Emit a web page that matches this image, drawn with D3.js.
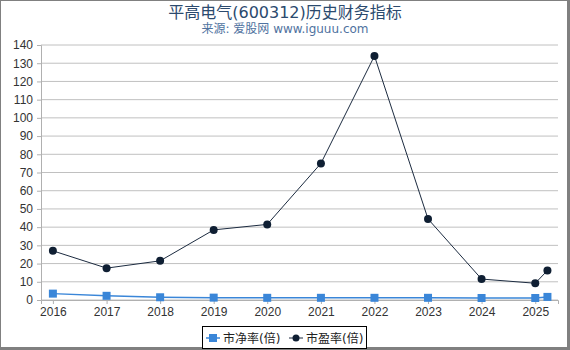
<!DOCTYPE html>
<html>
<head>
<meta charset="utf-8">
<script src="https://cdn.jsdelivr.net/npm/d3@7/dist/d3.min.js"></script>
<style>
  body { margin: 0; }
  svg { display: block; font-family: "DejaVu Sans", "Noto Sans CJK SC", sans-serif; }
</style>
</head>
<body>
<div id="chart"></div>
<script>
// data
const dates = ["2016-01-01", "2017-01-01", "2018-01-01", "2019-01-01", "2020-01-01",
               "2021-01-01", "2022-01-01", "2023-01-01", "2024-01-01", "2025-01-01", "2025-03-25"];
const pbValues = [3.5, 2.3, 1.5, 1.3, 1.2, 1.2, 1.2, 1.2, 1.1, 1.1, 1.7];
const peValues = [27, 17.5, 21.5, 38.5, 41.5, 75, 134, 44.5, 11.5, 9.2, 16.2];
const yTicks = d3.range(0, 141, 10);
const seriesNames = ["市净率(倍)", "市盈率(倍)"];

const W = 570, H = 350;
const margin = {top: 45, right: 12, bottom: 50, left: 41},
      width = W - margin.left - margin.right,
      height = H - margin.top - margin.bottom;

const svg = d3.select("#chart").append("svg")
    .attr("width", W)
    .attr("height", H);

svg.append("rect")
    .attr("width", W).attr("height", H)
    .attr("fill", "#fff");

// frame
svg.append("rect")
    .attr("x", 0.5).attr("y", 0.5)
    .attr("width", W - 2.5).attr("height", H - 2.5)
    .attr("fill", "none").attr("stroke", "#808080").attr("stroke-width", 1);
svg.append("rect").attr("x", W - 3).attr("y", 0).attr("width", 3).attr("height", H).attr("fill", "#808080");
svg.append("rect").attr("x", 0).attr("y", H - 3).attr("width", W).attr("height", 3).attr("fill", "#808080");

svg.append("text")
    .attr("x", W / 2).attr("y", 18)
    .attr("text-anchor", "middle")
    .attr("font-size", 16)
    .attr("fill", "#2b4a6e")
    .text("平高电气(600312)历史财务指标");

svg.append("text")
    .attr("x", W / 2).attr("y", 33)
    .attr("text-anchor", "middle")
    .attr("font-size", 12)
    .attr("fill", "#4f72a0")
    .text("来源: 爱股网 www.iguuu.com");

const g = svg.append("g")
    .attr("transform", `translate(${margin.left},${margin.top})`);

const parse = d3.timeParse("%Y-%m-%d");
const x = d3.scaleTime()
    .domain([parse("2015-10-12"), parse("2025-06-05")])
    .range([0, width]);
const y = d3.scaleLinear().domain([0, 140]).range([height, 0]);

// grid
g.append("g")
    .selectAll("line")
    .data(yTicks)
    .enter().append("line")
    .attr("x1", 0).attr("x2", width)
    .attr("y1", d => y(d)).attr("y2", d => y(d))
    .attr("stroke", "#c0c0c0");

const yAxis = g.append("g")
    .call(d3.axisLeft(y).tickValues(yTicks).tickSize(4).tickPadding(4));
yAxis.select(".domain").attr("stroke", "#b0b0b0");
yAxis.selectAll(".tick line").attr("stroke", "#b0b0b0");
yAxis.selectAll("text").attr("font-size", 12).attr("fill", "#333");

const years = d3.range(2016, 2026).map(yr => new Date(yr, 0, 1));
const xAxis = g.append("g")
    .attr("transform", `translate(0,${height})`)
    .call(d3.axisBottom(x).tickValues(years).tickFormat(d3.timeFormat("%Y")).tickSize(4).tickPadding(3));
xAxis.select(".domain").attr("stroke", "#b0b0b0");
xAxis.selectAll(".tick line").attr("stroke", "#b0b0b0");
xAxis.selectAll("text").attr("font-size", 12).attr("fill", "#333");

const pb = dates.map((d, i) => ({date: parse(d), v: pbValues[i]}));
const pe = dates.map((d, i) => ({date: parse(d), v: peValues[i]}));

const line = d3.line().x(d => x(d.date)).y(d => y(d.v));

g.append("path").datum(pb)
    .attr("d", line).attr("fill", "none")
    .attr("stroke", "#3a86d8").attr("stroke-width", 1.5);
g.selectAll(".pb")
    .data(pb)
  .enter().append("rect")
    .attr("class", "pb")
    .attr("x", d => x(d.date) - 4).attr("y", d => y(d.v) - 4)
    .attr("width", 8).attr("height", 8)
    .attr("fill", "#3a86d8");

g.append("path").datum(pe)
    .attr("d", line).attr("fill", "none")
    .attr("stroke", "#1c2b40").attr("stroke-width", 1);
g.selectAll(".pe")
    .data(pe)
  .enter().append("circle")
    .attr("class", "pe")
    .attr("cx", d => x(d.date)).attr("cy", d => y(d.v))
    .attr("r", 4)
    .attr("fill", "#0f1f33");

// legend
const legend = svg.append("g").attr("transform", "translate(202,326)");
legend.append("rect")
    .attr("x", 0.5).attr("y", 0.5)
    .attr("width", 164).attr("height", 22)
    .attr("fill", "#fff").attr("stroke", "#000");
legend.append("line").attr("x1", 4).attr("x2", 18).attr("y1", 12).attr("y2", 12)
    .attr("stroke", "#3a86d8").attr("stroke-width", 1.5);
legend.append("rect").attr("x", 7).attr("y", 8).attr("width", 8).attr("height", 8).attr("fill", "#3a86d8");
legend.append("text").attr("x", 21).attr("y", 16.5).attr("font-size", 12).attr("fill", "#222").text(seriesNames[0]);
legend.append("line").attr("x1", 87).attr("x2", 101).attr("y1", 12).attr("y2", 12)
    .attr("stroke", "#1c2b40").attr("stroke-width", 1);
legend.append("circle").attr("cx", 94).attr("cy", 12).attr("r", 3.5).attr("fill", "#0f1f33");
legend.append("text").attr("x", 104).attr("y", 16.5).attr("font-size", 12).attr("fill", "#222").text(seriesNames[1]);
</script>
</body>
</html>
